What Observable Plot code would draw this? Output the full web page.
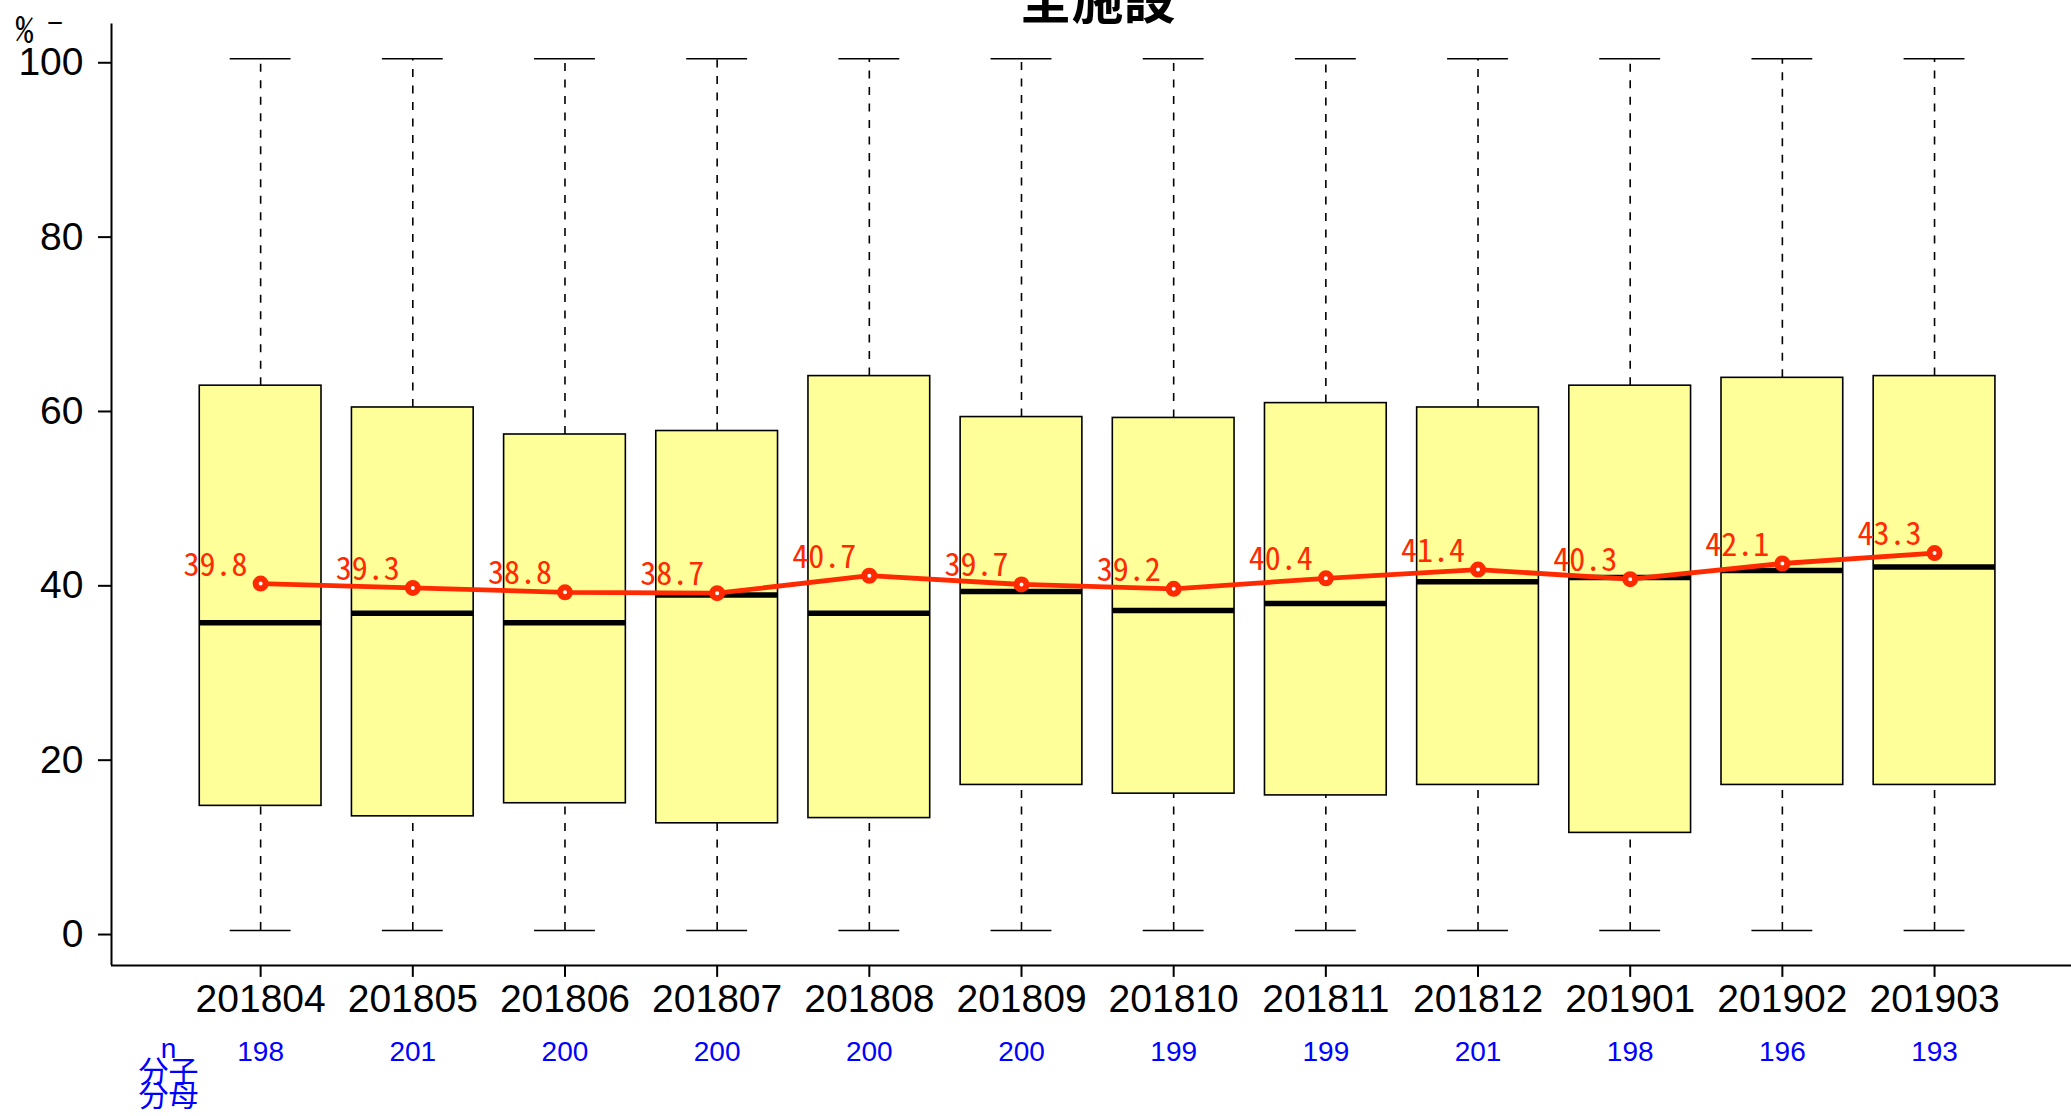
<!DOCTYPE html>
<html><head><meta charset="utf-8">
<script src="https://cdn.jsdelivr.net/npm/d3@7"></script>
<script src="https://cdn.jsdelivr.net/npm/@observablehq/plot@0.6"></script>
<style>
html,body{margin:0;padding:0;background:#fff;}
#chart{width:2071px;height:1116px;overflow:hidden;}
</style></head><body><div id="chart"></div>
<script>
// ---- data ----
const months = ["201804","201805","201806","201807","201808","201809","201810","201811","201812","201901","201902","201903"];
const mins    = [0,0,0,0,0,0,0,0,0,0,0,0];
const q1s     = [14.3,13.1,14.6,12.3,12.9,16.7,15.7,15.5,16.7,11.2,16.7,16.7];
const medians = [35.3,36.4,35.3,38.5,36.4,38.9,36.7,37.5,40.0,40.5,41.3,41.7];
const q3s     = [62.5,60.0,56.9,57.3,63.6,58.9,58.8,60.5,60.0,62.5,63.4,63.6];
const maxs    = [100,100,100,100,100,100,100,100,100,100,100,100];
const means   = [39.8,39.3,38.8,38.7,40.7,39.7,39.2,40.4,41.4,40.3,42.1,43.3];
const ns      = [198,201,200,200,200,200,199,199,201,198,196,193];
const yTicks  = [0,20,40,60,80,100];
const rowLabels = ["n","分子","分母"];
const title = "全施設";
const unit = "%";

// ---- build ----
const W = 2071, H = 1116;
const xDomain = [0.02, 12.9];
const yDomain = [-4, 104];
const idx = months.map((_, i) => i + 1);
const rows = idx.map(i => ({i, month: months[i-1], min: mins[i-1], q1: q1s[i-1], median: medians[i-1], q3: q3s[i-1], max: maxs[i-1], mean: means[i-1], n: ns[i-1]}));
const red = "#ff2a00";
const boxHalf = 0.4, capHalf = 0.2;
const jp = "'Noto Sans CJK JP', sans-serif";

const plot = Plot.plot({
  width: W, height: H,
  marginLeft: 111, marginRight: 0, marginTop: 23.4, marginBottom: 151.1,
  style: {fontFamily: "'Liberation Sans', Arial, sans-serif", background: "white", color: "black", overflow: "visible"},
  x: {domain: xDomain, axis: null, label: null},
  y: {domain: yDomain, axis: null, label: null},
  marks: [
    Plot.ruleX(rows, {x: "i", y1: "q3", y2: "max", stroke: "black", strokeWidth: 1.6, strokeDasharray: "8,8.5"}),
    Plot.ruleX(rows, {x: "i", y1: "min", y2: "q1", stroke: "black", strokeWidth: 1.6, strokeDasharray: "8,8.5"}),
    Plot.ruleY(rows, {y: "max", x1: d => d.i - capHalf, x2: d => d.i + capHalf, stroke: "black", strokeWidth: 1.6}),
    Plot.ruleY(rows, {y: "min", x1: d => d.i - capHalf, x2: d => d.i + capHalf, stroke: "black", strokeWidth: 1.6}),
    Plot.rect(rows, {x1: d => d.i - boxHalf, x2: d => d.i + boxHalf, y1: "q1", y2: "q3", fill: "#ffff99", stroke: "black", strokeWidth: 1.6}),
    Plot.ruleY(rows, {y: "median", x1: d => d.i - boxHalf, x2: d => d.i + boxHalf, stroke: "black", strokeWidth: 5.5}),
    Plot.line(rows, {x: "i", y: "mean", stroke: red, strokeWidth: 4.8}),
    Plot.dot(rows, {x: "i", y: "mean", r: 5, stroke: red, strokeWidth: 6, fill: "white"}),
    Plot.text(rows, {x: "i", y: "mean", text: d => d.mean.toFixed(1), textAnchor: "end", lineAnchor: "bottom", dx: -13, dy: -8, fill: red, fontSize: 32, fontFamily: jp}),
    Plot.axisY({ticks: yTicks, tickSize: 13, tickPadding: 15, fontSize: 39, strokeWidth: 2, dy: 4, label: null, tickFormat: d => String(d)}),
    Plot.axisX({ticks: idx, tickSize: 12, tickPadding: 7, fontSize: 39, strokeWidth: 2, label: null, tickFormat: i => months[i-1]}),
    Plot.axisX({ticks: idx, tickSize: 0, tickPadding: 76, fontSize: 28, fill: "blue", label: null, tickFormat: i => String(ns[i-1])}),
    Plot.ruleX([xDomain[0]], {stroke: "black", strokeWidth: 2}),
    Plot.ruleY([yDomain[0]], {stroke: "black", strokeWidth: 2}),
    Plot.text([title], {frameAnchor: "top", lineAnchor: "bottom", dx: 6, dy: -5, fontSize: 52, fontWeight: "bold", fontFamily: jp, fill: "black"}),
    Plot.text([unit], {frameAnchor: "top-left", lineAnchor: "bottom", textAnchor: "middle", dx: -87, dy: 18.6, fontSize: 36, fontFamily: jp, fill: "black"}),
    Plot.text(["−"], {frameAnchor: "top-left", lineAnchor: "middle", textAnchor: "middle", dx: -56.5, dy: 0, fontSize: 28, fontFamily: jp, fill: "black"}),
    Plot.text([rowLabels[0]], {frameAnchor: "bottom-left", lineAnchor: "bottom", textAnchor: "middle", dx: 57, dy: 93, fontSize: 28, fill: "blue"}),
    Plot.text([rowLabels[1]], {frameAnchor: "bottom-left", lineAnchor: "bottom", textAnchor: "middle", dx: 57, dy: 117, fontSize: 30, fontFamily: jp, fill: "blue"}),
    Plot.text([rowLabels[2]], {frameAnchor: "bottom-left", lineAnchor: "bottom", textAnchor: "middle", dx: 57, dy: 141, fontSize: 30, fontFamily: jp, fill: "blue"})
  ]
});
document.getElementById("chart").appendChild(plot);
// half-width monospace digits for the Japanese-font labels
d3.select(plot).selectAll("text").each(function() {
  const g = this.closest("g");
  if (g && (g.getAttribute("font-family") || "").includes("CJK")) {
    this.style.fontFeatureSettings = '"hwid" 1';
  }
});
</script>
</body></html>
